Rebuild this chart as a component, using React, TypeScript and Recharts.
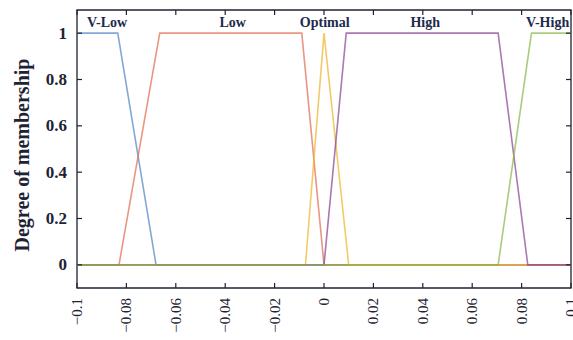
import React from 'react';
import { LineChart, Line, XAxis, YAxis, ReferenceArea, ReferenceDot } from 'recharts';

const xTicks = [-0.1, -0.08, -0.06, -0.04, -0.02, 0, 0.02, 0.04, 0.06, 0.08, 0.1];
const xTickLabels = ['\u22120.1', '\u22120.08', '\u22120.06', '\u22120.04', '\u22120.02', '0', '0.02', '0.04', '0.06', '0.08', '0.1'];
const yTicks = [0, 0.2, 0.4, 0.6, 0.8, 1];
const yTickLabels = ['0', '0.2', '0.4', '0.6', '0.8', '1'];

const vLowX = [-0.1, -0.0835, -0.068, 0.1];
const vLowY = [1, 1, 0, 0];
const lowX = [-0.1, -0.083, -0.0665, -0.009, 0, 0.1];
const lowY = [0, 0, 1, 1, 0, 0];
const optX = [-0.1, -0.0075, 0, 0.01, 0.1];
const optY = [0, 0, 1, 0, 0];
const highX = [-0.1, 0, 0.009, 0.0705, 0.0825, 0.1];
const highY = [0, 0, 1, 1, 0, 0];
const vHighX = [-0.1, 0.0705, 0.084, 0.1];
const vHighY = [0, 0, 1, 1];

const setNames = ['V-Low', 'Low', 'Optimal', 'High', 'V-High'];
const setLabelX = [-0.0878, -0.037, 0.0003, 0.041, 0.0905];
const setLabelY = 1.05;

const zip = (xs: number[], ys: number[]) => xs.map((x, i) => ({ x, y: ys[i] }));

const series = [
  { name: 'V-Low', data: zip(vLowX, vLowY), color: '#4f82c6' },
  { name: 'Low', data: zip(lowX, lowY), color: '#e06a4e' },
  { name: 'Optimal', data: zip(optX, optY), color: '#efb22a' },
  { name: 'High', data: zip(highX, highY), color: '#873f93' },
  { name: 'V-High', data: zip(vHighX, vHighY), color: '#86b545' },
];

const FONT = '"Liberation Serif", "Times New Roman", serif';
const W = 573;
const H = 340;
const M = { top: 10, right: 2, left: 0, bottom: 0 };
const TOP = M.top;
const RIGHT = W - M.right;
const INK = '#1e2333';

const XTick = (props: any) => {
  const { x, y, index } = props;
  return (
    <g>
      <line x1={x} x2={x} y1={y} y2={y - 5} stroke={INK} strokeWidth={1.2} />
      <line x1={x} x2={x} y1={TOP} y2={TOP + 5} stroke={INK} strokeWidth={1.2} />
      <text
        x={x}
        y={y + 10}
        transform={`rotate(-90 ${x} ${y + 10})`}
        textAnchor="end"
        dominantBaseline="central"
        fontFamily={FONT}
        fontSize={15}
        fill={INK}
      >
        {xTickLabels[index]}
      </text>
    </g>
  );
};

const YTick = (props: any) => {
  const { x, y, index } = props;
  return (
    <g>
      <line x1={x} x2={x + 5} y1={y} y2={y} stroke={INK} strokeWidth={1.2} />
      <line x1={RIGHT} x2={RIGHT - 5} y1={y} y2={y} stroke={INK} strokeWidth={1.2} />
      <text
        x={x - 10}
        y={y}
        textAnchor="end"
        dominantBaseline="central"
        fontFamily={FONT}
        fontSize={17}
        fontWeight="bold"
        fill={INK}
      >
        {yTickLabels[index]}
      </text>
    </g>
  );
};

export default function App() {
  return (
    <div style={{ position: 'absolute', left: 0, top: 0, background: '#fff' }}>
      <LineChart width={W} height={H} margin={M}>
        <XAxis
          type="number"
          dataKey="x"
          domain={[-0.1, 0.1]}
          ticks={xTicks}
          interval={0}
          allowDataOverflow
          axisLine={false}
          tickLine={false}
          tickSize={0}
          tickMargin={0}
          height={52}
          tick={<XTick />}
        />
        <YAxis
          type="number"
          dataKey="y"
          domain={[-0.1, 1.1]}
          ticks={yTicks}
          interval={0}
          allowDataOverflow
          axisLine={false}
          tickLine={false}
          tickSize={0}
          tickMargin={0}
          width={77}
          tick={<YTick />}
          label={{
            content: () => (
              <text
                x={22}
                y={155}
                transform="rotate(-90 22 155)"
                textAnchor="middle"
                dominantBaseline="central"
                fontFamily={FONT}
                fontSize={20}
                fontWeight="bold"
                fill={INK}
              >
                Degree of membership
              </text>
            ),
          }}
        />
        {series.map((s) => (
          <Line
            key={s.name}
            data={s.data}
            dataKey="y"
            type="linear"
            stroke={s.color}
            strokeWidth={1.6}
            strokeOpacity={0.7}
            dot={false}
            activeDot={false}
            isAnimationActive={false}
          />
        ))}
        <ReferenceArea x1={-0.1} x2={0.1} y1={-0.1} y2={1.1} fill="none" stroke={INK} strokeWidth={1.3} ifOverflow="visible" />
        {setNames.map((n, i) => (
          <ReferenceDot
            key={n}
            x={setLabelX[i]}
            y={setLabelY}
            r={0}
            fill="none"
            stroke="none"
            label={{ value: n, position: 'center', fontFamily: FONT, fontSize: 14, fontWeight: 'bold', fill: '#1c2a4c' }}
          />
        ))}
      </LineChart>
    </div>
  );
}
